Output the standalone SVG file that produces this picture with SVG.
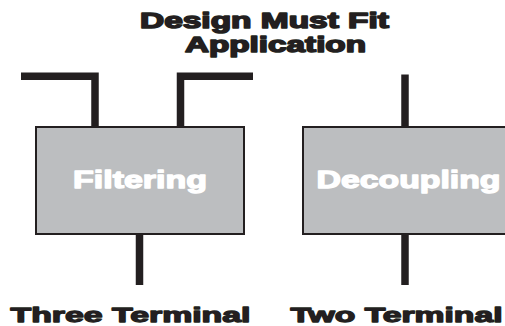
<svg xmlns="http://www.w3.org/2000/svg" width="505" height="326" viewBox="0 0 505 326">
<style>
.wire{fill:none;stroke:#231f20;stroke-width:7.5;stroke-linejoin:miter;stroke-linecap:butt}
.box{fill:#bcbec0;stroke:#231f20;stroke-width:2}
.lbl{font-family:"Liberation Sans",Arial,sans-serif;font-weight:bold;font-size:24px;stroke-width:1.3;stroke-linejoin:round}
.ttl{font-family:"Liberation Sans",Arial,sans-serif;font-weight:bold;font-size:21.5px;stroke-width:1.5;stroke-linejoin:round}
.dark{fill:#231f20;stroke:#231f20}
.white{fill:#ffffff;stroke:#ffffff}
</style>
<rect width="505" height="326" fill="#ffffff"/>
<g id="title">
<text class="ttl dark" x="140" y="28.2" textLength="249" lengthAdjust="spacingAndGlyphs">Design Must Fit</text>
<text class="ttl dark" x="185" y="52.3" textLength="181" lengthAdjust="spacingAndGlyphs">Application</text>
</g>
<g id="connectors">
<path class="wire" d="M21,76.3 H95 V127"/>
<path class="wire" d="M253,76.3 H180.5 V127"/>
<path class="wire" d="M139.5,234 V285"/>
<path class="wire" d="M405,74.5 V127"/>
<path class="wire" d="M405,234 V285"/>
</g>
<g id="filtering">
<rect class="box" x="36" y="127" width="208" height="107"/>
<text class="lbl white" x="73" y="188" textLength="134" lengthAdjust="spacingAndGlyphs">Filtering</text>
</g>
<g id="decoupling">
<rect class="box" x="303" y="127" width="212" height="107"/>
<text class="lbl white" x="316.5" y="188" textLength="184" lengthAdjust="spacingAndGlyphs">Decoupling</text>
</g>
<g id="three-terminal">
<text class="lbl dark" style="font-size:21px" x="10.5" y="321.7" textLength="240" lengthAdjust="spacingAndGlyphs">Three Terminal</text>
</g>
<g id="two-terminal">
<text class="lbl dark" style="font-size:21px" x="290.5" y="321.7" textLength="212" lengthAdjust="spacingAndGlyphs">Two Terminal</text>
</g>
</svg>
